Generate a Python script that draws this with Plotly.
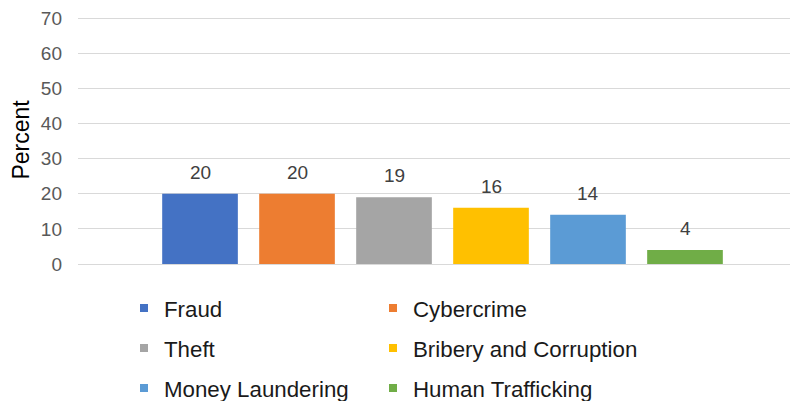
import plotly.graph_objects as go

# data
CATEGORIES = ["Fraud", "Cybercrime", "Theft", "Bribery and Corruption",
              "Money Laundering", "Human Trafficking"]
VALUES = [20, 20, 19, 16, 14, 4]
COLOURS = ["#4472C4", "#ED7D31", "#A5A5A5", "#FFC000", "#5B9BD5", "#70AD47"]
Y_TICKS = [0, 10, 20, 30, 40, 50, 60, 70]

FONT = "Liberation Sans, Arial, sans-serif"
GRID = "#D9D9D9"

# the page body has an 8px margin, so the figure is 8px smaller each way
W, H = 790, 393

fig = go.Figure()

for cat, val, col in zip(CATEGORIES, VALUES, COLOURS):
    fig.add_trace(go.Bar(
        x=[cat], y=[val], width=0.78,
        marker=dict(color=col, line=dict(width=0)),
        showlegend=False, hoverinfo="x+y",
    ))

# legend-only entries (small square swatches), one legend box each,
# laid out as two columns x three rows
legend_ids = ["legend", "legend2", "legend3", "legend4", "legend5", "legend6"]
for cat, col, lid in zip(CATEGORIES, COLOURS, legend_ids):
    fig.add_trace(go.Scatter(
        x=[None], y=[None], mode="markers", name=cat,
        marker=dict(symbol="square", size=8, color=col),
        legend=lid,
    ))

# data labels above the bars
for cat, val in zip(CATEGORIES, VALUES):
    fig.add_annotation(
        x=cat, y=val, text=str(val), showarrow=False,
        yanchor="bottom", yshift=9,
        font=dict(family=FONT, size=19, color="#404040"),
    )

legend_common = dict(
    orientation="h", xref="container", yref="container",
    xanchor="left", yanchor="middle",
    font=dict(family=FONT, size=22.3, color="#1A1A1A"),
    bgcolor="rgba(0,0,0,0)",
)
col_x = [116 / W, 365 / W]
row_y = [1 - 300 / H, 1 - 340 / H, 1 - 380 / H]
legend_layout = {}
for i, lid in enumerate(legend_ids):
    legend_layout[lid] = dict(x=col_x[i % 2], y=row_y[i // 2], **legend_common)

fig.update_layout(
    width=W, height=H,
    paper_bgcolor="white", plot_bgcolor="white",
    margin=dict(l=70, r=0, t=8, b=137, autoexpand=False),
    barmode="overlay",
    font=dict(family=FONT, color="#595959"),
    xaxis=dict(
        type="category", range=[-1.258, 6.165], automargin=False,
        showticklabels=False, showgrid=False, zeroline=False, showline=False,
        fixedrange=True,
    ),
    yaxis=dict(
        range=[0, 70.57], tickvals=Y_TICKS, showgrid=True, gridcolor=GRID, gridwidth=1,
        zeroline=True, zerolinecolor=GRID, zerolinewidth=1, showline=False,
        automargin=False, ticklabeloverflow="allow",
        tickfont=dict(family=FONT, size=19, color="#595959"),
        ticklabelstandoff=15,
        title=dict(text="Percent", standoff=10,
                   font=dict(family=FONT, size=23, color="#000000")),
    ),
    **legend_layout,
)

fig.write_html("out.html")
